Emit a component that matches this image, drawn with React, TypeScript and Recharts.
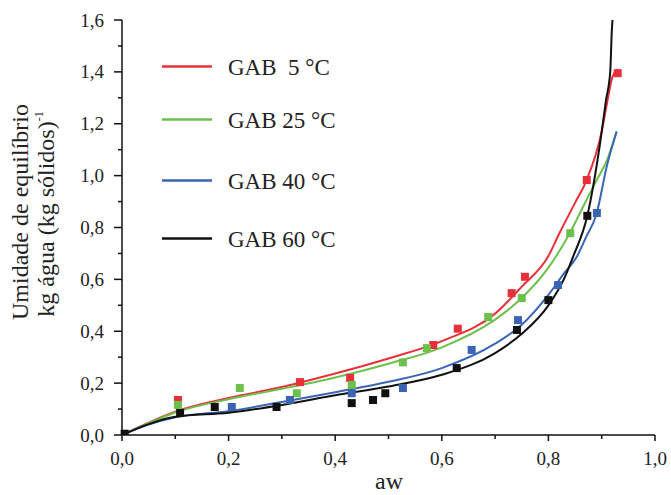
import { ComposedChart, Line, Scatter, XAxis, YAxis } from 'recharts';

// GAB model curves (aw, moisture)
const red5Aw = [0, 0.05, 0.1, 0.2, 0.3, 0.4, 0.5, 0.6, 0.7, 0.75, 0.8, 0.82, 0.85, 0.87, 0.9, 0.91, 0.92, 0.93];
const red5Y = [0, 0.048, 0.09, 0.143, 0.185, 0.237, 0.295, 0.362, 0.468, 0.572, 0.69, 0.775, 0.895, 0.975, 1.17, 1.28, 1.38, 1.41];

const green25Aw = [0, 0.05, 0.1, 0.2, 0.3, 0.4, 0.5, 0.6, 0.7, 0.75, 0.8, 0.84, 0.87, 0.89, 0.91, 0.928];
const green25Y = [0, 0.046, 0.087, 0.138, 0.178, 0.222, 0.275, 0.338, 0.445, 0.528, 0.645, 0.778, 0.9, 0.98, 1.06, 1.17];

const blue40Aw = [0, 0.05, 0.1, 0.2, 0.3, 0.4, 0.5, 0.6, 0.7, 0.75, 0.8, 0.83, 0.853, 0.87, 0.89, 0.91, 0.928];
const blue40Y = [0, 0.04, 0.068, 0.092, 0.127, 0.165, 0.205, 0.258, 0.352, 0.425, 0.54, 0.625, 0.686, 0.76, 0.85, 1.04, 1.17];

const black60Aw = [0, 0.05, 0.1, 0.2, 0.3, 0.4, 0.5, 0.6, 0.7, 0.75, 0.8, 0.83, 0.846, 0.873, 0.897, 0.908, 0.916, 0.919, 0.921];
const black60Y = [0, 0.042, 0.07, 0.086, 0.116, 0.153, 0.187, 0.232, 0.316, 0.39, 0.5, 0.605, 0.686, 0.845, 1.125, 1.29, 1.4, 1.56, 1.62];

// experimental points
const red5PtsAw = [0.105, 0.334, 0.428, 0.584, 0.63, 0.731, 0.756, 0.872, 0.93];
const red5PtsY = [0.135, 0.204, 0.22, 0.347, 0.41, 0.547, 0.61, 0.983, 1.395];

const green25PtsAw = [0.105, 0.221, 0.328, 0.431, 0.527, 0.572, 0.687, 0.75, 0.841];
const green25PtsY = [0.116, 0.181, 0.161, 0.193, 0.28, 0.335, 0.455, 0.528, 0.778];

const blue40PtsAw = [0.206, 0.315, 0.431, 0.527, 0.656, 0.743, 0.818, 0.891];
const blue40PtsY = [0.108, 0.135, 0.161, 0.181, 0.328, 0.443, 0.578, 0.856];

const black60PtsAw = [0.005, 0.109, 0.174, 0.29, 0.431, 0.471, 0.494, 0.628, 0.741, 0.8, 0.873];
const black60PtsY = [0.005, 0.085, 0.108, 0.108, 0.123, 0.135, 0.161, 0.258, 0.405, 0.52, 0.845];

const xTicks = [0, 0.2, 0.4, 0.6, 0.8, 1.0];
const xAllTicks = [0, 0.1, 0.2, 0.3, 0.4, 0.5, 0.6, 0.7, 0.8, 0.9, 1.0];
const yAllTicks = [0, 0.1, 0.2, 0.3, 0.4, 0.5, 0.6, 0.7, 0.8, 0.9, 1.0, 1.1, 1.2, 1.3, 1.4, 1.5, 1.6];

const seriesNames = ['GAB  5 °C', 'GAB 25 °C', 'GAB 40 °C', 'GAB 60 °C'];
const colors = ['#e8303a', '#6dc04b', '#3a65b5', '#111111'];

const zip = (xs: number[], ys: number[]) => xs.map((x, i) => ({ x, y: ys[i] }));

const curves = [zip(red5Aw, red5Y), zip(green25Aw, green25Y), zip(blue40Aw, blue40Y), zip(black60Aw, black60Y)];
const points = [
    zip(red5PtsAw, red5PtsY),
    zip(green25PtsAw, green25PtsY),
    zip(blue40PtsAw, blue40PtsY),
    zip(black60PtsAw, black60PtsY),
];

const fmt = (v: number) => v.toFixed(1).replace('.', ',');
const font = '"Liberation Serif", "Times New Roman", serif';
const isMajor = (v: number) => Math.round(v * 10) % 2 === 0;

const Square = (props: any) => {
    const { cx, cy, fill } = props;
    if (cx == null || cy == null) return null;
    return <rect x={cx - 4} y={cy - 4} width={8} height={8} fill={fill} />;
};

const XTick = ({ x, y, payload }: any) => {
    const major = isMajor(payload.value);
    return (
        <g>
            <line x1={x} x2={x} y1={y} y2={y + (major ? 6 : 4)} stroke="#111" strokeWidth={1.5} />
            {major && (
                <text x={x} y={y + 30} textAnchor="middle" fontSize={19} fontFamily={font} fill="#222">
                    {fmt(payload.value)}
                </text>
            )}
        </g>
    );
};

const YTick = ({ x, y, payload }: any) => {
    const major = isMajor(payload.value);
    return (
        <g>
            <line x1={x - (major ? 8 : 4)} x2={x} y1={y} y2={y} stroke="#111" strokeWidth={1.5} />
            {major && (
                <text x={x - 18} y={y + 6.5} textAnchor="end" fontSize={19} fontFamily={font} fill="#222">
                    {fmt(payload.value)}
                </text>
            )}
        </g>
    );
};

const Overlay = () => {
    const rows = [66.5, 119.5, 180.5, 238.5];
    return (
        <svg width={671} height={495} style={{ position: 'absolute', left: 0, top: 0, pointerEvents: 'none' }}>
            {seriesNames.map((n, i) => (
                <g key={n}>
                    <line x1={162} x2={212} y1={rows[i]} y2={rows[i]} stroke={colors[i]} strokeWidth={2.5} />
                    <text x={228} y={rows[i] + 8} fontSize={23} fontFamily={font} fill="#222" style={{ whiteSpace: 'pre' }}>
                        {n}
                    </text>
                </g>
            ))}
            <text x={389} y={489} textAnchor="middle" fontSize={24} fontFamily={font} fill="#222">
                aw
            </text>
            <text x={28} y={212} transform="rotate(-90 28 212)" textAnchor="middle" fontSize={24} fontFamily={font} fill="#222">
                Umidade de equilíbrio
            </text>
            <text x={54} y={214} transform="rotate(-90 54 214)" textAnchor="middle" fontSize={24} fontFamily={font} fill="#222">
                kg água (kg sólidos)
                <tspan fontSize={12} dy={-11}>-1</tspan>
            </text>
        </svg>
    );
};

export default function App() {
    return (
        <div style={{ position: 'absolute', left: 0, top: 0, width: 671, height: 495, background: '#fff' }}>
            <ComposedChart width={671} height={495} margin={{ top: 20, right: 16, bottom: 0, left: 0 }}>
                <XAxis
                    xAxisId="main"
                    type="number"
                    dataKey="x"
                    domain={[0, 1]}
                    ticks={xAllTicks}
                    interval={0}
                    height={60}
                    stroke="#111"
                    strokeWidth={1.5}
                    tickSize={0}
                    tickMargin={0}
                    tickLine={false}
                    tick={<XTick />}
                />
                <XAxis xAxisId="top" orientation="top" type="number" dataKey="x" domain={[0, 1]} ticks={xTicks} tick={false} mirror tickSize={5} height={0} stroke="#111" strokeWidth={1.5} />
                <YAxis
                    yAxisId="main"
                    type="number"
                    domain={[0, 1.6]}
                    ticks={yAllTicks}
                    interval={0}
                    allowDataOverflow
                    width={122}
                    stroke="#111"
                    strokeWidth={1.5}
                    tickSize={0}
                    tickMargin={0}
                    tickLine={false}
                    tick={<YTick />}
                />
                <YAxis yAxisId="right" orientation="right" type="number" domain={[0, 1.6]} ticks={yAllTicks} interval={0} tick={false} mirror tickSize={4} width={0} stroke="#111" strokeWidth={1.5} allowDataOverflow />
                {curves.map((c, i) => (
                    <Line
                        key={'l' + i}
                        xAxisId="main"
                        yAxisId="main"
                        data={c}
                        dataKey="y"
                        type="monotone"
                        stroke={colors[i]}
                        strokeWidth={2}
                        dot={false}
                        isAnimationActive={false}
                    />
                ))}
                {points.map((p, i) => (
                    <Scatter
                        key={'s' + i}
                        xAxisId="main"
                        yAxisId="main"
                        data={p}
                        dataKey="y"
                        fill={colors[i]}
                        shape={<Square />}
                        isAnimationActive={false}
                    />
                ))}
            </ComposedChart>
            <Overlay />
        </div>
    );
}
